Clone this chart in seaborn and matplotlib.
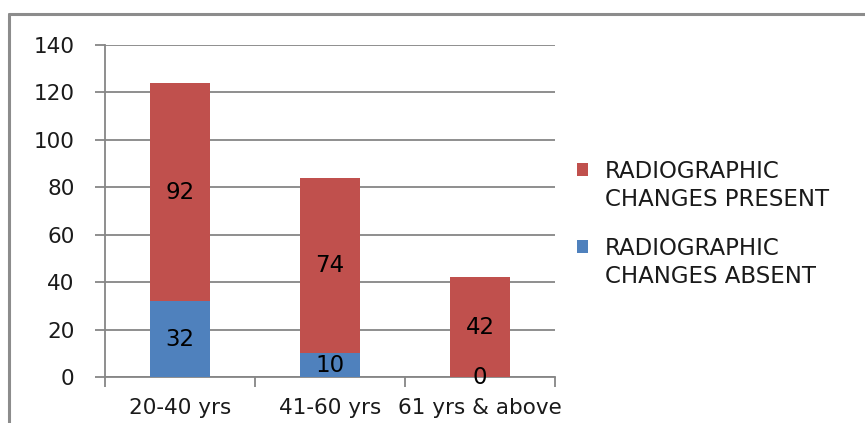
import matplotlib
matplotlib.use("Agg")
import matplotlib.pyplot as plt
from matplotlib.lines import Line2D
from matplotlib.patches import Patch
import seaborn as sns
import pandas as pd

categories = ["20-40 yrs", "41-60 yrs", "61 yrs & above"]
absent = [32, 10, 0]
present = [92, 74, 42]
legend_lines = [["RADIOGRAPHIC", "CHANGES PRESENT"], ["RADIOGRAPHIC", "CHANGES ABSENT"]]
yticks = [0, 20, 40, 60, 80, 100, 120, 140]

RED = "#C0504D"
BLUE = "#4F81BD"
GRID = "#868686"
FONT = ["DejaVu Sans"]

sns.set_theme(style="white")
plt.rcParams["font.family"] = FONT

df = pd.DataFrame({"cat": categories, "absent": absent, "present": present})
df["total"] = df["absent"] + df["present"]

fig = plt.figure(figsize=(8.65, 4.23), dpi=100)
W, H = 865, 423
ax = fig.add_axes([105 / W, 1 - 377 / H, (555 - 105) / W, (377 - 45) / H])

sns.barplot(data=df, x="cat", y="total", color=RED, width=0.4, ax=ax,
            saturation=1, linewidth=0, zorder=3)
sns.barplot(data=df, x="cat", y="absent", color=BLUE, width=0.4, ax=ax,
            saturation=1, linewidth=0, zorder=3)

for i, (a, p) in enumerate(zip(absent, present)):
    ax.text(i, a / 2, str(a), ha="center", va="center", fontsize=16.5,
            color="black", zorder=5)
    ax.text(i, a + p / 2, str(p), ha="center", va="center", fontsize=16.5,
            color="black", zorder=5)

ax.set_xlim(-0.5, 2.5)
ax.set_ylim(0, 140)
ax.set_yticks(yticks)
ax.set_yticklabels([str(t) for t in yticks])
ax.set_xticks([0, 1, 2])
ax.set_xticklabels(categories)
ax.set_xticks([-0.5, 0.5, 1.5, 2.5], minor=True)
ax.set_xlabel("")
ax.set_ylabel("")

ax.yaxis.grid(True, color=GRID, linewidth=1.3, zorder=0)
ax.set_axisbelow(True)
for s in ["top", "right"]:
    ax.spines[s].set_visible(False)
for s in ["left", "bottom"]:
    ax.spines[s].set_color(GRID)
    ax.spines[s].set_linewidth(1.3)

ax.tick_params(axis="y", which="major", left=True, length=7, width=1.3,
               color=GRID, labelsize=15.5, pad=15, labelcolor="#1a1a1a")
ax.tick_params(axis="x", which="major", bottom=False, labelsize=15.5,
               pad=9, labelcolor="#1a1a1a")
ax.tick_params(axis="x", which="minor", bottom=True, length=7, width=1.3,
               color=GRID)

blank = Patch(facecolor="none", edgecolor="none")
handles = [Patch(facecolor=RED, edgecolor="none"), blank, blank,
           Patch(facecolor=BLUE, edgecolor="none"), blank]
labels = [legend_lines[0][0], legend_lines[0][1], " ",
          legend_lines[1][0], legend_lines[1][1]]
leg = fig.legend(handles, labels, loc="upper left",
                 bbox_to_anchor=(577 / W, 1 - 160 / H), frameon=False,
                 fontsize=16.5, handlelength=0.48, handleheight=0.48,
                 handletextpad=0.75, labelspacing=0.22, borderaxespad=0,
                 borderpad=0)
for k, t in enumerate(leg.get_texts()):
    t.set_color("#1a1a1a")
    if k == 2:
        t.set_fontsize(5)

fig.add_artist(Line2D([9 / W, 1], [1 - 14 / H, 1 - 14 / H],
                      color="#8c8c8c", linewidth=2.2, transform=fig.transFigure))
fig.add_artist(Line2D([9 / W, 9 / W], [0, 1 - 14 / H],
                      color="#8c8c8c", linewidth=2.2, transform=fig.transFigure))

fig.savefig("out.png", dpi=100)
